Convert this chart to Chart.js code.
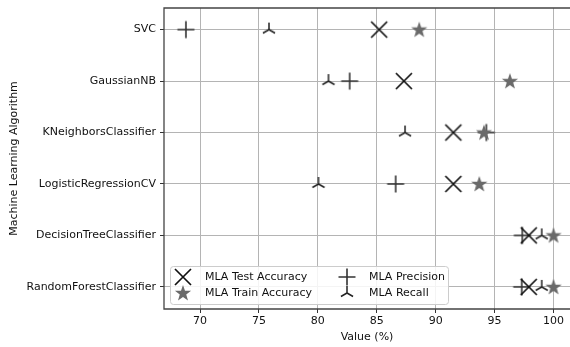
<!DOCTYPE html>
<html>
<head>
<meta charset="utf-8">
<script src="https://cdn.jsdelivr.net/npm/chart.js@4.4.1/dist/chart.umd.min.js"></script>
<style>
  html, body { margin: 0; padding: 0; background: #fff; }
  #wrap { width: 570px; height: 347px; }
</style>
</head>
<body>
<div id="wrap"><canvas id="mla-chart" width="570" height="347"></canvas></div>
<script>
// data
const algorithms = ['SVC', 'GaussianNB', 'KNeighborsClassifier', 'LogisticRegressionCV', 'DecisionTreeClassifier', 'RandomForestClassifier'];
const testAccuracy = [85.2, 87.3, 91.5, 91.5, 97.9, 97.9];
const trainAccuracy = [88.6, 96.3, 94.1, 93.7, 100, 100];
const precision = [68.8, 82.7, 94.3, 86.6, 97.35, 97.3];
const recall = [75.85, 80.9, 87.4, 80.05, 99.0, 99.0];
const xTicks = [70, 75, 80, 85, 90, 95, 100];

const FONT = 'DejaVu Sans';

// little canvases used as marker images
function makeMarker(size, draw) {
    const c = document.createElement('canvas');
    c.width = size; c.height = size;
    const ctx = c.getContext('2d');
    draw(ctx, size / 2);
    return c;
}

const xMarker = makeMarker(20, (ctx, m) => {
    ctx.strokeStyle = '#111';
    ctx.lineWidth = 1.7;
    ctx.beginPath();
    ctx.moveTo(m - 8, m - 8); ctx.lineTo(m + 8, m + 8);
    ctx.moveTo(m + 8, m - 8); ctx.lineTo(m - 8, m + 8);
    ctx.stroke();
});

const plusMarker = makeMarker(20, (ctx, m) => {
    ctx.strokeStyle = '#333';
    ctx.lineWidth = 1.6;
    ctx.beginPath();
    ctx.moveTo(m - 8.5, m); ctx.lineTo(m + 8.5, m);
    ctx.moveTo(m, m - 8.5); ctx.lineTo(m, m + 8.5);
    ctx.stroke();
});

const starMarker = makeMarker(20, (ctx, m) => {
    ctx.fillStyle = '#6a6a6a';
    ctx.beginPath();
    for (let i = 0; i < 10; i++) {
        const r = i % 2 === 0 ? 8.5 : 3.4;
        const a = -Math.PI / 2 + i * Math.PI / 5;
        const px = m + r * Math.cos(a), py = m + 0.5 + r * Math.sin(a);
        if (i === 0) ctx.moveTo(px, py); else ctx.lineTo(px, py);
    }
    ctx.closePath();
    ctx.fill();
});

const triMarker = makeMarker(20, (ctx, m) => {
    ctx.strokeStyle = '#222';
    ctx.lineWidth = 1.5;
    ctx.beginPath();
    [-90, 30, 150].forEach(d => {
        const a = d * Math.PI / 180;
        ctx.moveTo(m, m);
        ctx.lineTo(m + 7 * Math.cos(a), m + 7 * Math.sin(a));
    });
    ctx.stroke();
});

function pts(values) {
    return values.map((v, i) => ({ x: v, y: i }));
}

// frame (top + left + bottom spines)
const framePlugin = {
    id: 'frame',
    afterDraw(chart) {
        const a = chart.chartArea, ctx = chart.ctx;
        ctx.save();
        ctx.strokeStyle = '#444';
        ctx.lineWidth = 1.3;
        ctx.beginPath();
        ctx.moveTo(chart.width, a.top); ctx.lineTo(a.left, a.top);
        ctx.lineTo(a.left, a.bottom); ctx.lineTo(chart.width, a.bottom);
        ctx.stroke();
        ctx.restore();
    }
};

// two column legend in the lower left corner
const legendBox = {
    id: 'legendBox',
    afterDraw(chart) {
        const ctx = chart.ctx;
        const box = { x: 170, y: 266, w: 278, h: 38 };
        ctx.save();
        ctx.fillStyle = 'rgba(255,255,255,0.85)';
        ctx.strokeStyle = '#cccccc';
        ctx.lineWidth = 1;
        ctx.beginPath();
        ctx.roundRect(box.x + 0.5, box.y + 0.5, box.w, box.h, 3);
        ctx.fill(); ctx.stroke();
        ctx.font = '11px "' + FONT + '"';
        ctx.fillStyle = '#111';
        ctx.textBaseline = 'middle';
        const cols = [183, 347];
        const rows = [277, 293];
        chart.data.datasets.forEach((ds, k) => {
            const cx = cols[Math.floor(k / 2)], cy = rows[k % 2];
            const img = ds.pointStyle;
            ctx.drawImage(img, cx - img.width / 2, cy - img.height / 2);
            ctx.fillText(ds.label, cx + 22, cy + 0.5);
        });
        ctx.restore();
    }
};

const config = {
    type: 'scatter',
    data: {
        datasets: [
            { label: 'MLA Test Accuracy', data: pts(testAccuracy), pointStyle: xMarker },
            { label: 'MLA Train Accuracy', data: pts(trainAccuracy), pointStyle: starMarker },
            { label: 'MLA Precision', data: pts(precision), pointStyle: plusMarker },
            { label: 'MLA Recall', data: pts(recall), pointStyle: triMarker }
        ]
    },
    options: {
        responsive: false,
        animation: false,
        layout: { autoPadding: false, padding: { top: 8, right: 0, left: 0, bottom: 0 } },
        plugins: {
            legend: { display: false },
            tooltip: { enabled: false }
        },
        scales: {
            x: {
                type: 'linear',
                min: 66.94,
                max: 101.4,
                afterBuildTicks: s => { s.ticks = xTicks.map(v => ({ value: v })); },
                afterFit: s => { s.height = 38; s.paddingRight = 0; s.paddingLeft = 0; },
                grid: { color: '#b4b4b4', lineWidth: 1, tickColor: '#333', tickLength: 4 },
                border: { display: false },
                ticks: { color: '#111', font: { family: FONT, size: 11 }, padding: 2, maxRotation: 0 },
                title: { display: true, text: 'Value (%)', color: '#111', font: { family: FONT, size: 11 }, padding: { top: 0, bottom: 3 } }
            },
            y: {
                type: 'linear',
                reverse: true,
                min: -0.42,
                max: 5.43,
                afterBuildTicks: s => { s.ticks = algorithms.map((_, i) => ({ value: i })); },
                afterFit: s => { s.width = 164; s.paddingTop = 0; s.paddingBottom = 0; },
                grid: { color: '#b4b4b4', lineWidth: 1, tickColor: '#333', tickLength: 4 },
                border: { display: false },
                ticks: {
                    color: '#111',
                    font: { family: FONT, size: 11 },
                    padding: 4,
                    callback: v => algorithms[v]
                },
                title: { display: true, text: 'Machine Learning Algorithm', color: '#111', font: { family: FONT, size: 11 }, padding: { top: 8, bottom: 2 } }
            }
        }
    },
    plugins: [framePlugin, legendBox]
};

new Chart(document.getElementById('mla-chart').getContext('2d'), config);
</script>
</body>
</html>
